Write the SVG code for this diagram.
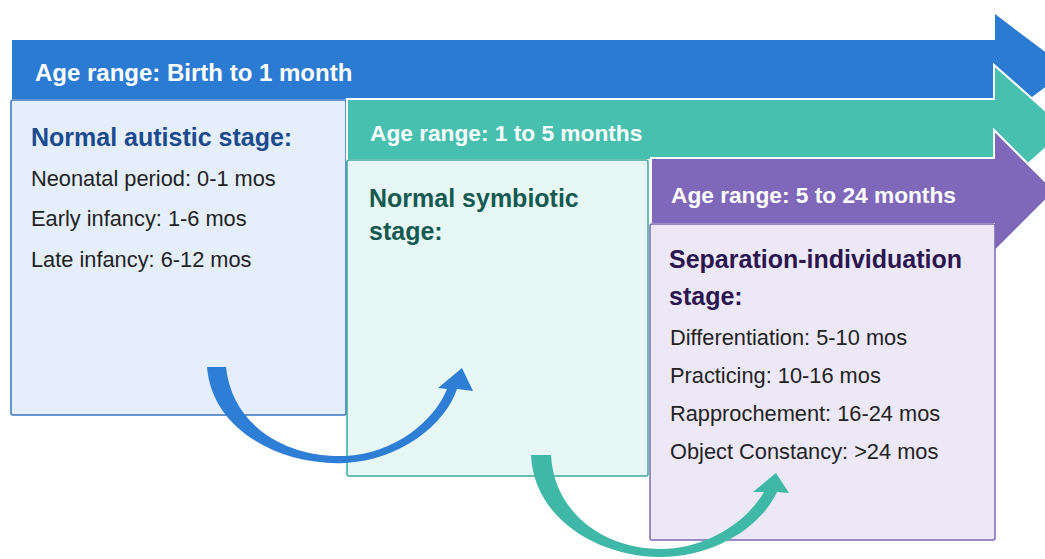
<svg xmlns="http://www.w3.org/2000/svg" width="1045" height="559" viewBox="0 0 1045 559">
<style>
  .band { stroke: #ffffff; stroke-width: 2; stroke-linejoin: miter; }
  .age { font-family: "Liberation Sans", Arial, sans-serif; font-weight: bold; font-size: 24px; fill: #ffffff; }
  .age2 { font-size: 22.7px; }
  .head { font-family: "Liberation Sans", Arial, sans-serif; font-weight: bold; font-size: 25px; }
  .item { font-family: "Liberation Sans", Arial, sans-serif; font-size: 21.8px; fill: #222222; }
</style>
<rect width="1045" height="559" fill="#ffffff"/>

<g id="stage-autistic">
  <path class="band" d="M11,39 L994,39 L994,12 L1070,69.5 L994,127 L994,100 L11,100 Z" fill="#2b7bd3"/>
  <text class="age" x="35" y="81">Age range: Birth to 1 month</text>
  <rect x="11" y="100" width="335" height="315" rx="2" fill="#e4effb" stroke="#3a74bf" stroke-width="1.5"/>
  <text class="head" x="31" y="146" fill="#1c4a8f">Normal autistic stage:</text>
  <text class="item" x="31" y="186">Neonatal period: 0-1 mos</text>
  <text class="item" x="31" y="226">Early infancy: 1-6 mos</text>
  <text class="item" x="31" y="267">Late infancy: 6-12 mos</text>
</g>

<g id="stage-symbiotic">
  <path class="band" d="M347,99 L994,99 L994,65 L1067,129.5 L994,194 L994,160 L347,160 Z" fill="#48c0b0"/>
  <text class="age age2" x="370" y="141">Age range: 1 to 5 months</text>
  <rect x="347" y="160" width="301" height="316" rx="2" fill="#e7f7f6" stroke="#3fa899" stroke-width="1.5"/>
  <text class="head" x="369" y="207" fill="#145a50">Normal symbiotic</text>
  <text class="head" x="369" y="240" fill="#145a50">stage:</text>
</g>

<g id="stage-separation">
  <path class="band" d="M651,158 L994,158 L994,130 L1055,191 L994,252 L994,224 L651,224 Z" fill="#7f67b9"/>
  <text class="age age2" x="671" y="203">Age range: 5 to 24 months</text>
  <rect x="650" y="224" width="345" height="316" rx="2" fill="#ede8f7" stroke="#7d68b6" stroke-width="1.5"/>
  <text class="head" x="669" y="268" fill="#2b1650">Separation-individuation</text>
  <text class="head" x="669" y="305" fill="#2b1650">stage:</text>
  <text class="item" x="670" y="345">Differentiation: 5-10 mos</text>
  <text class="item" x="670" y="383">Practicing: 10-16 mos</text>
  <text class="item" x="670" y="421">Rapprochement: 16-24 mos</text>
  <text class="item" x="670" y="459">Object Constancy: &gt;24 mos</text>
</g>

<g id="connectors">
  <path d="M207,367 C212,430 280,466 345,463 C400,460 445,425 457,389 L473,391 L462,368 L438,388 L447,389 C435,420 395,454 345,456 C285,458 232,425 226,367 Z" fill="#2f7ed6"/>
  <path d="M531,455 C534,520 600,557 660,557 C717,557 762,525 777,492 L789,493 L776,473 L753,492 L764,492 C745,524 705,549 660,549 C607,549 554,515 551,455 Z" fill="#3fb8a8"/>
</g>
</svg>
